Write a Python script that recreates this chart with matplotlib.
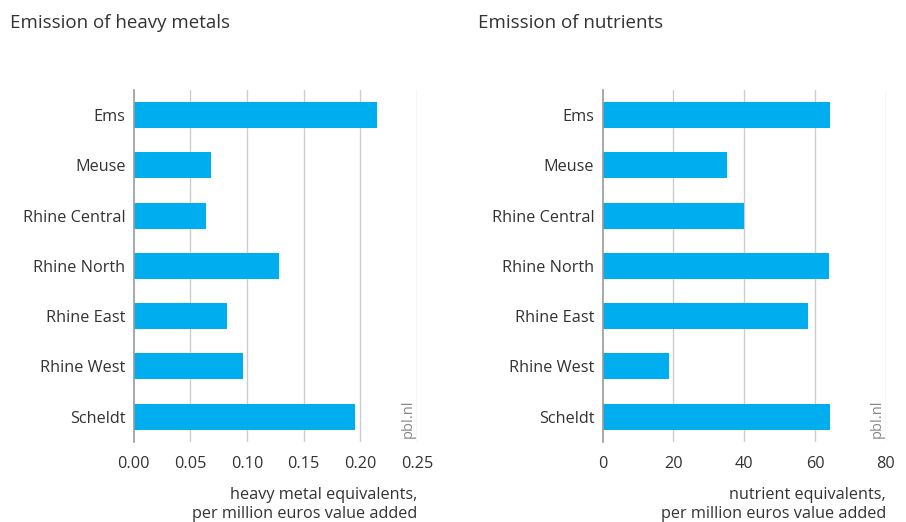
import numpy as np
import matplotlib.pyplot as plt

plt.rcParams['font.family'] = ['Open Sans', 'DejaVu Sans']

regions = ['Ems', 'Meuse', 'Rhine Central', 'Rhine North', 'Rhine East', 'Rhine West', 'Scheldt']
heavy_metals = [0.215, 0.068, 0.064, 0.128, 0.082, 0.096, 0.195]
nutrients = [64.2, 35.1, 39.9, 63.9, 58.0, 18.7, 64.2]

heavy_ticks = [0.0, 0.05, 0.10, 0.15, 0.20, 0.25]
heavy_tick_labels = ['0.00', '0.05', '0.10', '0.15', '0.20', '0.25']
nutrient_ticks = [0, 20, 40, 60, 80]
nutrient_tick_labels = ['0', '20', '40', '60', '80']

bar_color = '#00AEEF'
text_color = '#333333'
grid_color = '#cccccc'


def draw_panel(ax, values, ticks, tick_labels, xlabel):
    y = np.arange(len(regions))
    ax.barh(y, values, height=0.52, color=bar_color, zorder=3)
    ax.set_ylim(len(regions) - 0.5, -0.5)
    ax.set_xlim(ticks[0], ticks[-1])
    ax.set_yticks(y)
    ax.set_yticklabels(regions, fontsize=11.7, color=text_color)
    ax.set_xticks(ticks)
    ax.set_xticklabels(tick_labels, fontsize=11.7, color=text_color)
    ax.tick_params(axis='both', length=0)
    ax.tick_params(axis='x', pad=10)
    ax.tick_params(axis='y', pad=6)
    for t in ticks[1:]:
        ax.axvline(t, color=grid_color, lw=1, zorder=1)
    for s in ['top', 'right', 'bottom']:
        ax.spines[s].set_visible(False)
    ax.spines['left'].set_color('#999999')
    ax.spines['left'].set_linewidth(1.2)
    ax.spines['left'].set_zorder(4)
    ax.text(1.0, -0.13, xlabel, transform=ax.transAxes, ha='right', va='top',
            fontsize=11.7, color=text_color, linespacing=1.2)
    ax.text(0.968, 0.01, 'pbl.nl', transform=ax.transAxes, rotation=90,
            ha='center', va='bottom', fontsize=10.5, color='#888888')
    return ax


fig = plt.figure(figsize=(9.06, 5.22), dpi=100)
ax1 = fig.add_axes([0.1476, 0.1538, 0.3127, 0.6738])
ax2 = fig.add_axes([0.6652, 0.1538, 0.3127, 0.6738])

draw_panel(ax1, heavy_metals, heavy_ticks, heavy_tick_labels,
           'heavy metal equivalents,\nper million euros value added')
draw_panel(ax2, nutrients, nutrient_ticks, nutrient_tick_labels,
           'nutrient equivalents,\nper million euros value added')

fig.text(10 / 906, 1 - 23 / 522, 'Emission of heavy metals', fontsize=13.5, color=text_color, va='center')
fig.text(478 / 906, 1 - 23 / 522, 'Emission of nutrients', fontsize=13.5, color=text_color, va='center')

fig.savefig('out.png', dpi=100)
